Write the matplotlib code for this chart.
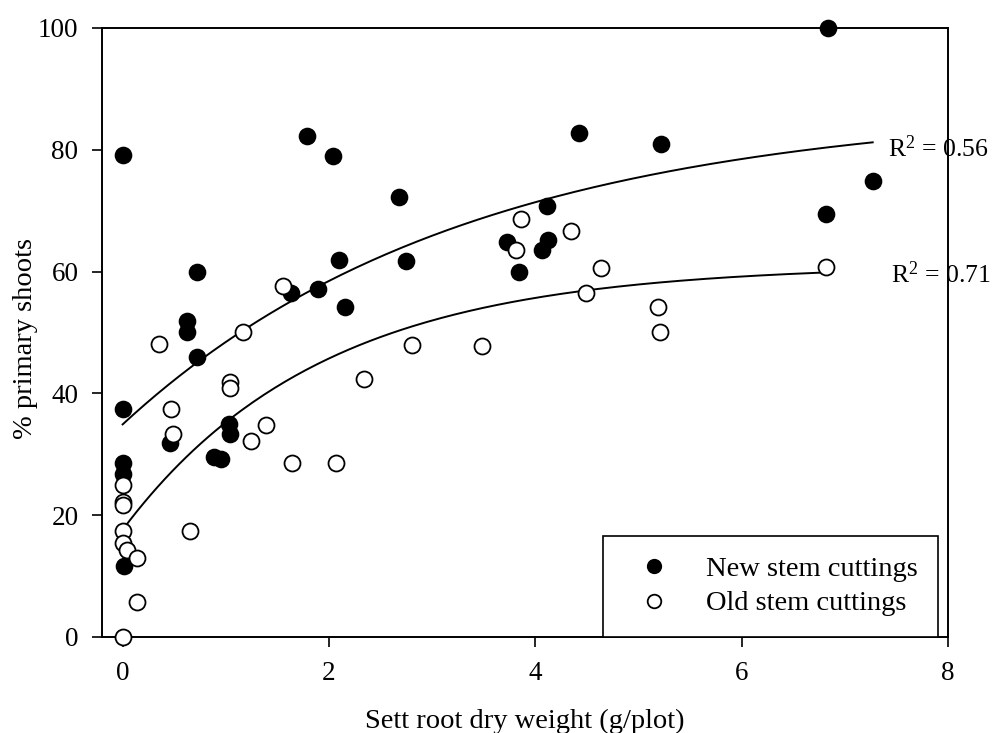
import numpy as np
import matplotlib
matplotlib.use("Agg")
import matplotlib.pyplot as plt

# sett root dry weight (g/plot) vs % primary shoots
new_x = [0.00, 1.79, 2.04, 0.72, 1.63, 1.89, 2.10, 2.16, 0.62, 0.62, 0.72,
         0.00, 0.46, 1.03, 1.04, 0.89, 0.95, 0.00, 0.00, 0.01, 4.42, 5.22,
         2.68, 4.11, 3.73, 4.12, 4.06, 2.75, 3.84, 6.84, 7.27, 6.82]
new_y = [79.1, 82.3, 78.9, 59.9, 56.4, 57.1, 61.9, 54.1, 51.8, 50.1, 45.9,
         37.5, 31.8, 34.9, 33.3, 29.6, 29.2, 28.6, 26.8, 11.7, 82.8, 81.0,
         72.2, 70.8, 64.9, 65.2, 63.5, 61.8, 60.0, 100.0, 74.9, 69.5]

old_x = [1.55, 0.35, 1.17, 1.04, 1.04, 2.34, 0.47, 0.49, 1.39, 1.24, 1.64,
         2.07, 0.00, 0.00, 0.00, 0.00, 0.00, 0.04, 0.14, 0.65, 0.14, 0.00,
         3.86, 4.35, 3.81, 4.64, 4.49, 5.19, 5.21, 2.80, 3.48, 6.82]
old_y = [57.7, 48.1, 50.0, 41.8, 40.9, 42.3, 37.5, 33.4, 34.8, 32.2, 28.6,
         28.6, 25.0, 22.2, 21.7, 17.4, 15.5, 14.2, 12.9, 17.4, 5.7, 0.0,
         68.7, 66.7, 63.5, 60.5, 56.4, 54.1, 50.0, 47.9, 47.8, 60.8]

# exponential rise to max fits: y = y0 + a*(1 - exp(-b*x))
new_fit = [34.9, 52.2, 0.30]
old_fit = [17.6, 43.5, 0.52]
new_r2 = 0.56
old_r2 = 0.71

plt.rcParams['font.family'] = ['Liberation Serif', 'DejaVu Serif']
plt.rcParams['mathtext.fontset'] = 'custom'
plt.rcParams['mathtext.rm'] = 'Liberation Serif'
plt.rcParams['mathtext.it'] = 'Liberation Serif:italic'

fs = 20.5

fig = plt.figure(figsize=(10, 7.33), dpi=100)
ax = fig.add_axes([0.102, 0.131, 0.846, 0.831])

def rise(x, p):
    return p[0] + p[1] * (1 - np.exp(-p[2] * x))

xs1 = np.linspace(0, max(new_x), 200)
xs2 = np.linspace(0, max(old_x), 200)
ax.plot(xs1, rise(xs1, new_fit), color='black', lw=1.4, zorder=2)
ax.plot(xs2, rise(xs2, old_fit), color='black', lw=1.4, zorder=2)

ax.plot(new_x, new_y, 'o', ms=11.5, mfc='black', mec='black', mew=1.2,
        ls='none', label='New stem cuttings', clip_on=False, zorder=3)
ax.plot(old_x, old_y, 'o', ms=11.5, mfc='white', mec='black', mew=1.3,
        ls='none', label='Old stem cuttings', clip_on=False, zorder=4)

ax.text(7.42, rise(max(new_x), new_fit) - 1.0, r'R$^{\mathrm{2}}$ = %.2f' % new_r2,
        fontsize=18.5, ha='left', va='center', clip_on=False)
ax.text(7.45, rise(max(old_x), old_fit) - 0.3, r'R$^{\mathrm{2}}$ = %.2f' % old_r2,
        fontsize=18.5, ha='left', va='center', clip_on=False)

ax.set_xlim(-0.2, 8)
ax.set_ylim(0, 100)
ax.set_xticks([0, 2, 4, 6, 8])
ax.set_yticks([0, 20, 40, 60, 80, 100])
ax.tick_params(direction='out', length=7, width=1.2, labelsize=19.5, pad=10)
for s in ax.spines.values():
    s.set_linewidth(1.4)

ax.set_xlabel('Sett root dry weight (g/plot)', fontsize=fs)
ax.set_ylabel('% primary shoots', fontsize=fs)
ax.xaxis.set_label_coords(0.5, -0.118)
ax.yaxis.set_label_coords(-0.076, 0.49)

leg = ax.legend(loc='lower right', bbox_to_anchor=(0.988, 0.0), borderaxespad=0,
                fontsize=fs, markerscale=0.85, frameon=True, fancybox=False,
                framealpha=1, edgecolor='black', handlelength=2.2,
                handletextpad=0.7, borderpad=0.72, labelspacing=0.3)
leg.get_frame().set_linewidth(1.2)

fig.savefig('out.png', dpi=100)
